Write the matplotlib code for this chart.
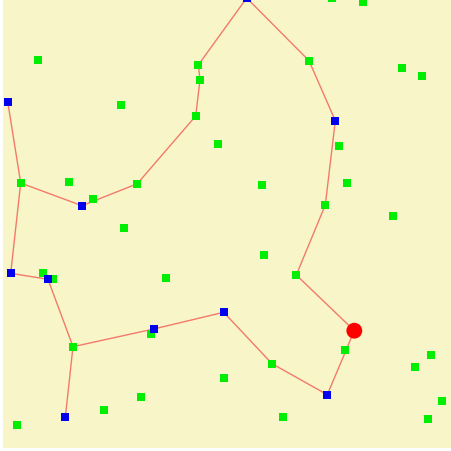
import matplotlib
matplotlib.use("Agg")
import matplotlib.pyplot as plt

# Green points (pixel-like map coordinates, y grows downward)
green_x = [37.7, 121, 198.3, 200, 195.7, 218.3, 20.7, 69.3, 137.3, 93.3, 124,
           331.7, 362.7, 309, 401.7, 421.7, 339, 261.7, 347, 325.3, 393.3,
           43, 52.7, 165.7, 151, 73, 224, 141.3, 104, 16.7,
           263.7, 296.3, 345.3, 430.7, 415, 272, 282.7, 442.3, 427.7]
green_y = [61, 106, 66, 80.7, 117, 145, 184, 183, 184.7, 199.7, 228.7,
           -1, 2.7, 61.7, 69, 77, 147, 186, 184, 206, 217,
           273.7, 279.7, 278.7, 335.3, 347.7, 379.3, 397.7, 411, 425.7,
           256, 276, 351.3, 355.7, 367.7, 364.7, 418.3, 402, 420]

# Blue points
blue_x = [7.7, 82, 246.7, 335.3, 10.7, 48, 223.7, 153.7, 65.3, 327.3]
blue_y = [102.7, 206.7, -1, 121.7, 274.3, 280.3, 313.3, 330, 418.3, 395.7]

# Red point
red_x = [354.3]
red_y = [331.7]

# Route polylines
path1_x = [7.7, 20.7, 10.7, 48, 73, 65.3]
path1_y = [102.7, 184, 274.3, 280.3, 347.7, 418.3]
path2_x = [20.7, 82, 137.3, 195.7, 200, 198.3, 246.7, 309, 335.3, 325.3, 296.3,
           354.3, 327.3, 272, 223.7, 153.7, 73]
path2_y = [184, 206.7, 184.7, 117, 80.7, 66, -1, 61.7, 121.7, 206, 276,
           331.7, 395.7, 364.7, 313.3, 330, 347.7]

W, H = 452, 452
fig = plt.figure(figsize=(W / 100, H / 100), dpi=100)
fig.patch.set_facecolor("white")
ax = fig.add_axes([3 / W, (H - 449) / H, (W - 3) / W, 449 / H])
ax.set_facecolor("#f8f6c8")
ax.set_xlim(3, W)
ax.set_ylim(449, 0)
ax.axis("off")
ax.add_patch(plt.Rectangle((3, 0), W, 449, color="#f8f6c8", zorder=0))

line_kw = dict(color="#f27a6a", lw=1.0, zorder=1, solid_joinstyle="round")
ax.plot(path1_x, path1_y, **line_kw)
ax.plot(path2_x, path2_y, **line_kw)

ax.scatter(green_x, green_y, marker="s", s=34, color="#00ee00", edgecolors="none", zorder=2)
ax.scatter(blue_x, blue_y, marker="s", s=34, color="#0000ee", edgecolors="none", zorder=3)
ax.scatter(red_x, red_y, marker="o", s=130, color="#ff0000", edgecolors="none", zorder=4)

fig.savefig("out.png", dpi=100, facecolor="white")
